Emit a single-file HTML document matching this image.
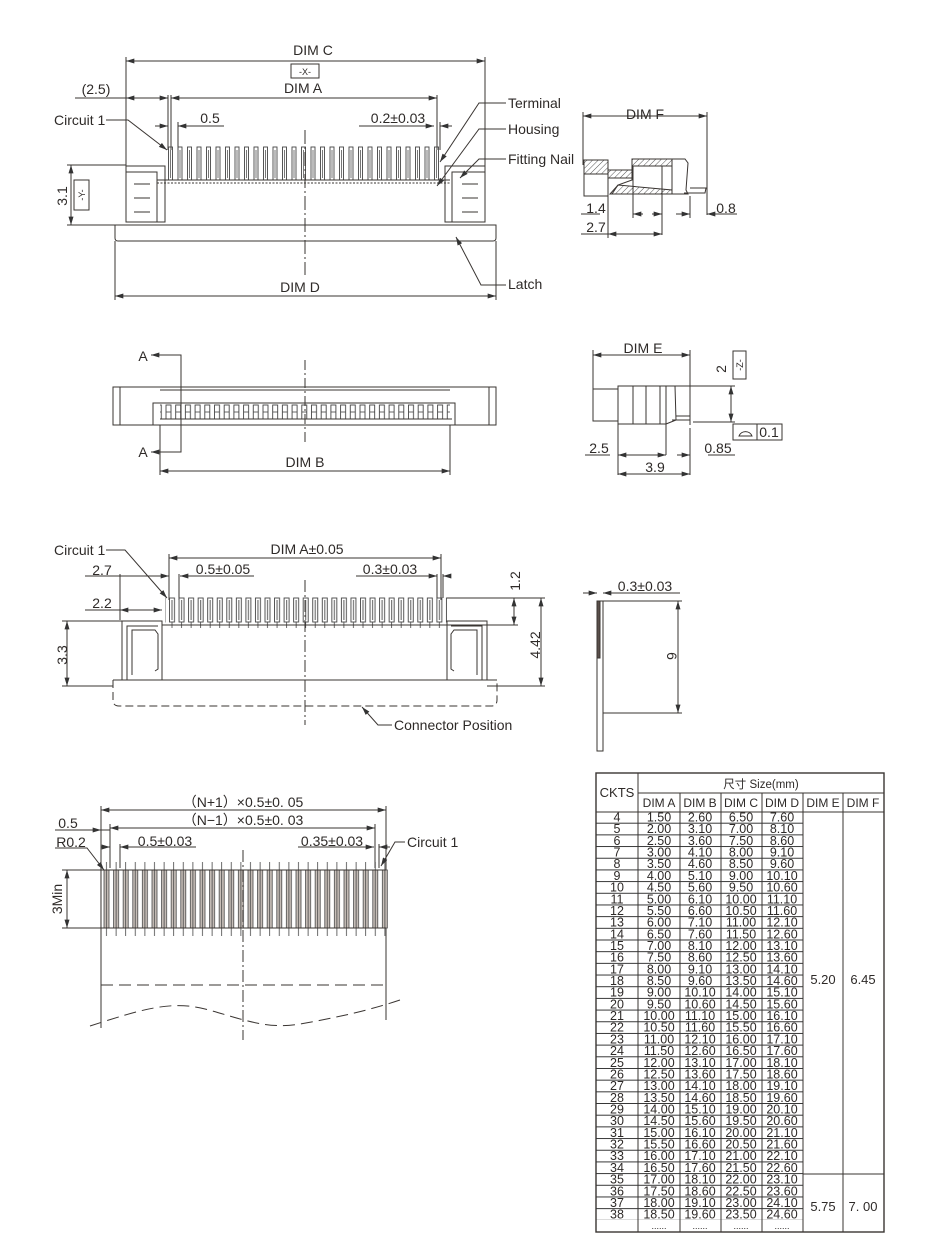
<!DOCTYPE html>
<html><head><meta charset="utf-8"><style>
html,body{margin:0;padding:0;background:#fff}
svg{display:block}
text{font-family:"Liberation Sans","Noto Sans CJK SC",sans-serif;fill:#2e2a28}
</style></head><body>
<svg width="946" height="1252" viewBox="0 0 946 1252" xmlns="http://www.w3.org/2000/svg">
<defs>
<marker id="ar" viewBox="0 0 10 6" refX="10" refY="3" markerWidth="9" markerHeight="5" orient="auto-start-reverse" markerUnits="userSpaceOnUse"><path d="M0,0L10,3L0,6z" fill="#333"/></marker>
<pattern id="pinT" x="168" y="0" width="9.5" height="300" patternUnits="userSpaceOnUse">
<rect x="0.5" y="147" width="4" height="33" fill="none" stroke="#444" stroke-width="0.9"/><line x1="2.5" y1="150" x2="2.5" y2="178" stroke="#777" stroke-width="1"/></pattern>
<pattern id="pinA" x="165" y="0" width="9.7" height="500" patternUnits="userSpaceOnUse">
<rect x="1" y="405" width="5" height="14" fill="none" stroke="#444" stroke-width="0.9"/><line x1="1" y1="412" x2="6" y2="412" stroke="#444" stroke-width="0.8"/></pattern>
<pattern id="pin3" x="169" y="0" width="9.55" height="700" patternUnits="userSpaceOnUse">
<rect x="0.5" y="598" width="5" height="24" fill="none" stroke="#444" stroke-width="0.9"/><line x1="3" y1="600" x2="3" y2="620" stroke="#777" stroke-width="1.2"/><line x1="3" y1="622" x2="3" y2="628" stroke="#444" stroke-width="0.8"/></pattern>
<pattern id="fpc" x="103" y="0" width="9.6" height="1000" patternUnits="userSpaceOnUse">
<rect x="1" y="870" width="5" height="58" fill="#c8bfb9" stroke="#444" stroke-width="0.8"/><line x1="3.5" y1="862" x2="3.5" y2="936" stroke="#444" stroke-width="0.8"/></pattern>
<pattern id="rows" x="0" y="812" width="300" height="11.68" patternUnits="userSpaceOnUse">
<line x1="0" y1="11.2" x2="300" y2="11.2" stroke="#333" stroke-width="1"/></pattern>
<pattern id="hatch" width="4" height="4" patternUnits="userSpaceOnUse" patternTransform="rotate(45)"><line x1="0" y1="0" x2="0" y2="4" stroke="#555" stroke-width="1"/></pattern>
</defs>

<g stroke="#3a3532" stroke-width="1" fill="none">
<line x1="126" y1="57" x2="126" y2="170"/><line x1="485" y1="57" x2="485" y2="170"/>
<line x1="126" y1="61" x2="485" y2="61" marker-start="url(#ar)" marker-end="url(#ar)"/>
<rect x="291" y="64" width="28" height="14"/>
<line x1="75" y1="98" x2="126" y2="98"/>
<line x1="126" y1="98" x2="168" y2="98" marker-start="url(#ar)" marker-end="url(#ar)"/>
<line x1="171" y1="98" x2="437" y2="98" marker-start="url(#ar)" marker-end="url(#ar)"/>
<line x1="168" y1="95" x2="168" y2="150"/><line x1="171" y1="95" x2="171" y2="150"/><line x1="437" y1="95" x2="437" y2="150"/>
<line x1="155" y1="126" x2="168" y2="126" marker-end="url(#ar)"/><line x1="187" y1="126" x2="224" y2="126"/><line x1="187" y1="126" x2="178" y2="126" marker-end="url(#ar)"/>
<line x1="178" y1="122" x2="178" y2="150"/>
<line x1="359" y1="126" x2="434" y2="126" marker-end="url(#ar)"/><line x1="452" y1="126" x2="440" y2="126" marker-end="url(#ar)"/><line x1="440" y1="122" x2="440" y2="150"/>
<rect x="168" y="140" width="275" height="45" fill="url(#pinT)" stroke="none"/>
<line x1="157" y1="180" x2="450" y2="180"/><line x1="157" y1="183" x2="450" y2="183" stroke-dasharray="2 1.5"/>
<path d="M126,166 L165,166 L165,222 L126,222 Z"/><path d="M445,166 L485,166 L485,222 L445,222 Z"/>
<path d="M126,172 L157,172 L157,222"/><path d="M485,172 L452,172 L452,222"/>
<line x1="134" y1="184" x2="150" y2="184"/><line x1="134" y1="198" x2="150" y2="198"/><line x1="134" y1="212" x2="150" y2="212"/>
<line x1="462" y1="184" x2="478" y2="184"/><line x1="462" y1="198" x2="478" y2="198"/><line x1="462" y1="212" x2="478" y2="212"/>
<path d="M115,225 L496,225 L496,238 Q496,241 493,241 L118,241 Q115,241 115,238 Z"/>
<line x1="115" y1="241" x2="115" y2="300"/><line x1="496" y1="241" x2="496" y2="300"/>
<line x1="115" y1="296" x2="496" y2="296" marker-start="url(#ar)" marker-end="url(#ar)"/>
<line x1="305" y1="130" x2="305" y2="275" stroke-dasharray="14 3 2 3"/>
<line x1="67" y1="165" x2="126" y2="165"/><line x1="67" y1="225" x2="115" y2="225"/>
<line x1="71" y1="165" x2="71" y2="225" marker-start="url(#ar)" marker-end="url(#ar)"/>
<rect x="74" y="180" width="15" height="30"/>
<path d="M106,120 L128,120 L167,150" marker-end="url(#ar)"/>
<path d="M506,103 L479,103 L440,162" marker-end="url(#ar)"/>
<path d="M506,129 L479,129 L437,186" marker-end="url(#ar)"/>
<path d="M506,159 L479,159 L460,178" marker-end="url(#ar)"/>
<path d="M506,285 L481,285 L456,237" marker-end="url(#ar)"/>

<line x1="583" y1="112" x2="583" y2="165"/><line x1="707" y1="112" x2="707" y2="215"/>
<line x1="583" y1="116" x2="707" y2="116" marker-start="url(#ar)" marker-end="url(#ar)"/>
<rect x="584" y="160" width="24" height="36"/><rect x="584" y="160" width="24" height="14" fill="url(#hatch)"/>
<rect x="608" y="170" width="24" height="8" fill="url(#hatch)"/>
<path d="M632,159 L672,159 L672,194 L610,194 L618,185 L632,180 Z"/>
<rect x="632" y="159" width="40" height="7" fill="url(#hatch)"/>
<path d="M612,194 L618,185 L672,190 L672,194 Z" fill="url(#hatch)"/>
<line x1="633" y1="166" x2="633" y2="218"/><line x1="662" y1="166" x2="662" y2="235"/>
<path d="M672,159 L685,159 L688,163 L686,190 L688,194 L672,194"/>
<path d="M684,193 L705,193 L706,188 L690,188"/>
<line x1="690" y1="196" x2="690" y2="218"/>
<line x1="608" y1="196" x2="608" y2="238"/>
<line x1="581" y1="214" x2="600" y2="214"/><line x1="652" y1="214" x2="662" y2="214" marker-end="url(#ar)"/><line x1="643" y1="214" x2="633" y2="214" marker-end="url(#ar)"/>
<line x1="676" y1="214" x2="690" y2="214" marker-end="url(#ar)"/><line x1="737" y1="214" x2="707" y2="214" marker-end="url(#ar)"/>
<line x1="581" y1="234" x2="608" y2="234"/><line x1="608" y1="234" x2="662" y2="234" marker-start="url(#ar)" marker-end="url(#ar)"/>

<rect x="113" y="387" width="383" height="38"/>
<line x1="120" y1="387" x2="120" y2="425"/><line x1="489" y1="387" x2="489" y2="425"/>
<line x1="160" y1="390" x2="450" y2="390"/>
<path d="M153,425 L153,403 L455,403 L455,425"/>
<rect x="160" y="400" width="290" height="25" fill="url(#pinA)" stroke="none"/>
<line x1="160" y1="419" x2="452" y2="419"/>
<line x1="160" y1="425" x2="160" y2="475"/><line x1="450" y1="425" x2="450" y2="475"/>
<line x1="160" y1="471" x2="450" y2="471" marker-start="url(#ar)" marker-end="url(#ar)"/>
<line x1="305" y1="360" x2="305" y2="445" stroke-dasharray="10 3 2 3"/>
<path d="M181,445 L181,355 L151,355" marker-end="url(#ar)"/>
<path d="M181,400 L181,452 L151,452" marker-end="url(#ar)"/>

<line x1="593" y1="350" x2="593" y2="392"/><line x1="690" y1="350" x2="690" y2="425"/>
<line x1="593" y1="355" x2="690" y2="355" marker-start="url(#ar)" marker-end="url(#ar)"/>
<rect x="593" y="389" width="25" height="32"/>
<rect x="618" y="386" width="48" height="38"/>
<line x1="633" y1="386" x2="633" y2="424"/><line x1="646" y1="386" x2="646" y2="424"/><line x1="660" y1="386" x2="660" y2="424"/>
<path d="M666,386 L675,386 L676,420 L666,424"/>
<path d="M672,420 L690,420 L690,416 L676,416"/>
<line x1="666" y1="386" x2="735" y2="386"/><line x1="693" y1="422" x2="735" y2="422"/>
<line x1="731" y1="386" x2="731" y2="422" marker-start="url(#ar)" marker-end="url(#ar)"/>
<rect x="733" y="351" width="13" height="28"/>
<rect x="733" y="424" width="24" height="16"/><rect x="757" y="424" width="25" height="16"/>
<path d="M739,436 A7,7 0 0 1 752,436 Z"/>
<line x1="618" y1="424" x2="618" y2="475"/><line x1="666" y1="424" x2="666" y2="455"/><line x1="690" y1="428" x2="690" y2="475"/>
<line x1="585" y1="455" x2="610" y2="455"/><line x1="618" y1="455" x2="666" y2="455" marker-start="url(#ar)" marker-end="url(#ar)"/>
<line x1="677" y1="455" x2="690" y2="455" marker-end="url(#ar)"/><line x1="735" y1="455" x2="708" y2="455"/>
<line x1="618" y1="474" x2="690" y2="474" marker-start="url(#ar)" marker-end="url(#ar)"/>

<line x1="169" y1="554" x2="169" y2="600"/><line x1="441" y1="554" x2="441" y2="600"/>
<line x1="169" y1="558" x2="441" y2="558" marker-start="url(#ar)" marker-end="url(#ar)"/>
<line x1="85" y1="576" x2="169" y2="576" marker-end="url(#ar)"/><line x1="120" y1="574" x2="120" y2="620"/>
<line x1="190" y1="576" x2="254" y2="576"/><line x1="190" y1="576" x2="180" y2="576" marker-end="url(#ar)"/><line x1="179" y1="574" x2="179" y2="600"/>
<line x1="356" y1="576" x2="437" y2="576" marker-end="url(#ar)"/><line x1="450" y1="576" x2="443" y2="576" marker-end="url(#ar)"/><line x1="437" y1="574" x2="437" y2="598"/><line x1="443" y1="574" x2="443" y2="598"/>
<line x1="85" y1="610" x2="120" y2="610"/><line x1="120" y1="610" x2="162" y2="610" marker-start="url(#ar)" marker-end="url(#ar)"/>
<rect x="165" y="590" width="282" height="40" fill="url(#pin3)" stroke="none"/>
<line x1="162" y1="625" x2="447" y2="625"/>
<path d="M122,680 L122,621 L162,621 L162,680"/><path d="M127,680 L127,626 L158,626"/>
<path d="M132,675 L132,630 L155,630 L158,634 L158,669 L155,671"/>
<path d="M447,680 L447,621 L487,621 L487,680"/><path d="M482,680 L482,626 L451,626"/>
<path d="M477,675 L477,630 L454,630 L451,634 L451,669 L454,671"/>
<path d="M113,680 L497,680"/>
<path d="M113,680 L113,700 Q113,706 119,706 L491,706 Q497,706 497,700 L497,680" stroke-dasharray="8 4"/>
<line x1="305" y1="580" x2="305" y2="725" stroke-dasharray="12 3 2 3"/>
<line x1="447" y1="598" x2="545" y2="598"/><line x1="447" y1="625" x2="518" y2="625"/><line x1="487" y1="686" x2="545" y2="686"/>
<line x1="514" y1="598" x2="514" y2="625" marker-start="url(#ar)" marker-end="url(#ar)"/>
<line x1="541" y1="598" x2="541" y2="686" marker-start="url(#ar)" marker-end="url(#ar)"/>
<line x1="62" y1="621" x2="122" y2="621"/><line x1="62" y1="686" x2="113" y2="686"/>
<line x1="67" y1="621" x2="67" y2="686" marker-start="url(#ar)" marker-end="url(#ar)"/>
<path d="M106,550 L125,550 L167,598" marker-end="url(#ar)"/>
<path d="M392,725 L378,725 L362,707" marker-end="url(#ar)"/>

<rect x="597" y="601" width="6" height="150"/>
<rect x="597" y="601" width="3" height="57" fill="#5a4f4a"/>
<line x1="603" y1="601" x2="682" y2="601"/><line x1="603" y1="713" x2="682" y2="713"/>
<line x1="678" y1="601" x2="678" y2="713" marker-start="url(#ar)" marker-end="url(#ar)"/>
<line x1="583" y1="593" x2="597" y2="593" marker-end="url(#ar)"/><line x1="680" y1="593" x2="603" y2="593"/><line x1="612" y1="593" x2="603" y2="593" marker-end="url(#ar)"/>

<line x1="101" y1="806" x2="101" y2="1028"/><line x1="386" y1="806" x2="386" y2="1020"/>
<line x1="101" y1="810" x2="386" y2="810" marker-start="url(#ar)" marker-end="url(#ar)"/>
<line x1="110" y1="824" x2="110" y2="868"/><line x1="375" y1="824" x2="375" y2="868"/>
<line x1="110" y1="828" x2="375" y2="828" marker-start="url(#ar)" marker-end="url(#ar)"/>
<line x1="55" y1="830" x2="101" y2="830" marker-end="url(#ar)"/><line x1="101" y1="830" x2="110" y2="830"/>
<line x1="101" y1="847" x2="110" y2="847" marker-end="url(#ar)"/><line x1="130" y1="847" x2="196" y2="847"/><line x1="130" y1="847" x2="120" y2="847" marker-end="url(#ar)"/><line x1="120" y1="844" x2="120" y2="868"/>
<line x1="298" y1="847" x2="374" y2="847" marker-end="url(#ar)"/><line x1="390" y1="847" x2="379" y2="847" marker-end="url(#ar)"/><line x1="379" y1="844" x2="379" y2="868"/>
<rect x="100" y="860" width="288" height="80" fill="url(#fpc)" stroke="none"/>
<line x1="101" y1="870" x2="386" y2="870"/><line x1="101" y1="928" x2="386" y2="928"/>
<line x1="62" y1="870" x2="101" y2="870"/><line x1="62" y1="928" x2="101" y2="928"/>
<line x1="67" y1="870" x2="67" y2="928" marker-start="url(#ar)" marker-end="url(#ar)"/>
<line x1="101" y1="985" x2="386" y2="985" stroke-dasharray="12 6"/>
<path d="M90,1026 C140,1010 170,1000 205,1009 C240,1018 265,1030 300,1024 C340,1017 370,1010 400,1000" stroke-dasharray="12 6"/>
<line x1="243" y1="850" x2="243" y2="1040" stroke-dasharray="12 3 2 3"/>
<path d="M55,848 L87,848 L104,870" marker-end="url(#ar)"/>
<path d="M405,842 L395,842 L381,866" marker-end="url(#ar)"/>

<rect x="596" y="773" width="288" height="459" stroke-width="1.4"/>
<line x1="638" y1="773" x2="638" y2="1232"/>
<line x1="638" y1="793" x2="884" y2="793"/>
<line x1="596" y1="812" x2="884" y2="812"/>
<line x1="680" y1="793" x2="680" y2="1232"/><line x1="721" y1="793" x2="721" y2="1232"/><line x1="762" y1="793" x2="762" y2="1232"/><line x1="803" y1="793" x2="803" y2="1232"/><line x1="843" y1="793" x2="843" y2="1232"/>
<line x1="803" y1="1174" x2="884" y2="1174"/>
</g>
<rect x="596" y="812" width="207" height="408" fill="url(#rows)"/>

<g font-size="14">
<text x="313" y="55" text-anchor="middle">DIM  C</text>
<text x="305" y="75" text-anchor="middle" font-size="9">-X-</text>
<text x="96" y="94" text-anchor="middle">(2.5)</text>
<text x="303" y="93" text-anchor="middle">DIM  A</text>
<text x="54" y="125">Circuit 1</text>
<text x="210" y="123" text-anchor="middle">0.5</text>
<text x="398" y="123" text-anchor="middle">0.2±0.03</text>
<text x="508" y="108">Terminal</text>
<text x="508" y="134">Housing</text>
<text x="508" y="164">Fitting Nail</text>
<text x="508" y="289">Latch</text>
<text x="300" y="292" text-anchor="middle">DIM  D</text>
<text transform="translate(67,196) rotate(-90)" text-anchor="middle">3.1</text>
<text transform="translate(85,195) rotate(-90)" text-anchor="middle" font-size="9">-Y-</text>
<text x="645" y="119" text-anchor="middle">DIM  F</text>
<text x="596" y="213" text-anchor="middle">1.4</text>
<text x="596" y="232" text-anchor="middle">2.7</text>
<text x="726" y="213" text-anchor="middle">0.8</text>
<text x="143" y="361" text-anchor="middle">A</text>
<text x="143" y="457" text-anchor="middle">A</text>
<text x="305" y="467" text-anchor="middle">DIM  B</text>
<text x="643" y="353" text-anchor="middle">DIM  E</text>
<text transform="translate(726,369) rotate(-90)" text-anchor="middle">2</text>
<text transform="translate(743,365) rotate(-90)" text-anchor="middle" font-size="9">-Z-</text>
<text x="769" y="437" text-anchor="middle">0.1</text>
<text x="599" y="453" text-anchor="middle">2.5</text>
<text x="655" y="472" text-anchor="middle">3.9</text>
<text x="718" y="453" text-anchor="middle">0.85</text>
<text x="54" y="555">Circuit 1</text>
<text x="307" y="554" text-anchor="middle">DIM  A±0.05</text>
<text x="102" y="575" text-anchor="middle">2.7</text>
<text x="102" y="608" text-anchor="middle">2.2</text>
<text x="223" y="574" text-anchor="middle">0.5±0.05</text>
<text x="390" y="574" text-anchor="middle">0.3±0.03</text>
<text transform="translate(520,581) rotate(-90)" text-anchor="middle">1.2</text>
<text transform="translate(540,645) rotate(-90)" text-anchor="middle">4.42</text>
<text transform="translate(67,655) rotate(-90)" text-anchor="middle">3.3</text>
<text x="394" y="730">Connector Position</text>
<text x="645" y="591" text-anchor="middle">0.3±0.03</text>
<text transform="translate(667,656) rotate(90)" text-anchor="middle">6</text>
<text x="243" y="807" text-anchor="middle">（N+1）×0.5±0. 05</text>
<text x="243" y="825" text-anchor="middle">（N−1）×0.5±0. 03</text>
<text x="68" y="828" text-anchor="middle">0.5</text>
<text x="71" y="847" text-anchor="middle">R0.2</text>
<text x="165" y="846" text-anchor="middle">0.5±0.03</text>
<text x="332" y="846" text-anchor="middle">0.35±0.03</text>
<text x="407" y="847">Circuit 1</text>
<text transform="translate(62,899) rotate(-90)" text-anchor="middle">3Min</text>
</g>

<g font-size="13" text-anchor="middle">
<text x="617" y="797">CKTS</text>
<text x="761" y="788" font-size="11.5">尺寸 Size(mm)</text>
<text x="659" y="807" font-size="12">DIM A</text><text x="700" y="807" font-size="12">DIM B</text><text x="741" y="807" font-size="12">DIM C</text><text x="782" y="807" font-size="12">DIM D</text><text x="823" y="807" font-size="12">DIM E</text><text x="863" y="807" font-size="12">DIM F</text>
<text x="823" y="984">5.20</text><text x="863" y="984">6.45</text>
<text x="823" y="1211">5.75</text><text x="863" y="1211">7. 00</text>
</g>
<g font-size="12.5" text-anchor="middle">
<g transform="translate(0,821.5)"><text x="617">4</text><text x="659">1.50</text><text x="700">2.60</text><text x="741">6.50</text><text x="782">7.60</text></g>
<g transform="translate(0,833.18)"><text x="617">5</text><text x="659">2.00</text><text x="700">3.10</text><text x="741">7.00</text><text x="782">8.10</text></g>
<g transform="translate(0,844.86)"><text x="617">6</text><text x="659">2.50</text><text x="700">3.60</text><text x="741">7.50</text><text x="782">8.60</text></g>
<g transform="translate(0,856.54)"><text x="617">7</text><text x="659">3.00</text><text x="700">4.10</text><text x="741">8.00</text><text x="782">9.10</text></g>
<g transform="translate(0,868.22)"><text x="617">8</text><text x="659">3.50</text><text x="700">4.60</text><text x="741">8.50</text><text x="782">9.60</text></g>
<g transform="translate(0,879.9)"><text x="617">9</text><text x="659">4.00</text><text x="700">5.10</text><text x="741">9.00</text><text x="782">10.10</text></g>
<g transform="translate(0,891.58)"><text x="617">10</text><text x="659">4.50</text><text x="700">5.60</text><text x="741">9.50</text><text x="782">10.60</text></g>
<g transform="translate(0,903.26)"><text x="617">11</text><text x="659">5.00</text><text x="700">6.10</text><text x="741">10.00</text><text x="782">11.10</text></g>
<g transform="translate(0,914.94)"><text x="617">12</text><text x="659">5.50</text><text x="700">6.60</text><text x="741">10.50</text><text x="782">11.60</text></g>
<g transform="translate(0,926.62)"><text x="617">13</text><text x="659">6.00</text><text x="700">7.10</text><text x="741">11.00</text><text x="782">12.10</text></g>
<g transform="translate(0,938.3)"><text x="617">14</text><text x="659">6.50</text><text x="700">7.60</text><text x="741">11.50</text><text x="782">12.60</text></g>
<g transform="translate(0,949.98)"><text x="617">15</text><text x="659">7.00</text><text x="700">8.10</text><text x="741">12.00</text><text x="782">13.10</text></g>
<g transform="translate(0,961.66)"><text x="617">16</text><text x="659">7.50</text><text x="700">8.60</text><text x="741">12.50</text><text x="782">13.60</text></g>
<g transform="translate(0,973.34)"><text x="617">17</text><text x="659">8.00</text><text x="700">9.10</text><text x="741">13.00</text><text x="782">14.10</text></g>
<g transform="translate(0,985.02)"><text x="617">18</text><text x="659">8.50</text><text x="700">9.60</text><text x="741">13.50</text><text x="782">14.60</text></g>
<g transform="translate(0,996.7)"><text x="617">19</text><text x="659">9.00</text><text x="700">10.10</text><text x="741">14.00</text><text x="782">15.10</text></g>
<g transform="translate(0,1008.38)"><text x="617">20</text><text x="659">9.50</text><text x="700">10.60</text><text x="741">14.50</text><text x="782">15.60</text></g>
<g transform="translate(0,1020.06)"><text x="617">21</text><text x="659">10.00</text><text x="700">11.10</text><text x="741">15.00</text><text x="782">16.10</text></g>
<g transform="translate(0,1031.74)"><text x="617">22</text><text x="659">10.50</text><text x="700">11.60</text><text x="741">15.50</text><text x="782">16.60</text></g>
<g transform="translate(0,1043.42)"><text x="617">23</text><text x="659">11.00</text><text x="700">12.10</text><text x="741">16.00</text><text x="782">17.10</text></g>
<g transform="translate(0,1055.1)"><text x="617">24</text><text x="659">11.50</text><text x="700">12.60</text><text x="741">16.50</text><text x="782">17.60</text></g>
<g transform="translate(0,1066.78)"><text x="617">25</text><text x="659">12.00</text><text x="700">13.10</text><text x="741">17.00</text><text x="782">18.10</text></g>
<g transform="translate(0,1078.46)"><text x="617">26</text><text x="659">12.50</text><text x="700">13.60</text><text x="741">17.50</text><text x="782">18.60</text></g>
<g transform="translate(0,1090.14)"><text x="617">27</text><text x="659">13.00</text><text x="700">14.10</text><text x="741">18.00</text><text x="782">19.10</text></g>
<g transform="translate(0,1101.82)"><text x="617">28</text><text x="659">13.50</text><text x="700">14.60</text><text x="741">18.50</text><text x="782">19.60</text></g>
<g transform="translate(0,1113.5)"><text x="617">29</text><text x="659">14.00</text><text x="700">15.10</text><text x="741">19.00</text><text x="782">20.10</text></g>
<g transform="translate(0,1125.18)"><text x="617">30</text><text x="659">14.50</text><text x="700">15.60</text><text x="741">19.50</text><text x="782">20.60</text></g>
<g transform="translate(0,1136.86)"><text x="617">31</text><text x="659">15.00</text><text x="700">16.10</text><text x="741">20.00</text><text x="782">21.10</text></g>
<g transform="translate(0,1148.54)"><text x="617">32</text><text x="659">15.50</text><text x="700">16.60</text><text x="741">20.50</text><text x="782">21.60</text></g>
<g transform="translate(0,1160.22)"><text x="617">33</text><text x="659">16.00</text><text x="700">17.10</text><text x="741">21.00</text><text x="782">22.10</text></g>
<g transform="translate(0,1171.9)"><text x="617">34</text><text x="659">16.50</text><text x="700">17.60</text><text x="741">21.50</text><text x="782">22.60</text></g>
<g transform="translate(0,1183.58)"><text x="617">35</text><text x="659">17.00</text><text x="700">18.10</text><text x="741">22.00</text><text x="782">23.10</text></g>
<g transform="translate(0,1195.26)"><text x="617">36</text><text x="659">17.50</text><text x="700">18.60</text><text x="741">22.50</text><text x="782">23.60</text></g>
<g transform="translate(0,1206.94)"><text x="617">37</text><text x="659">18.00</text><text x="700">19.10</text><text x="741">23.00</text><text x="782">24.10</text></g>
<g transform="translate(0,1218.62)"><text x="617">38</text><text x="659">18.50</text><text x="700">19.60</text><text x="741">23.50</text><text x="782">24.60</text></g>
<g transform="translate(0,1229)" font-size="9"><text x="659">......</text><text x="700">......</text><text x="741">......</text><text x="782">......</text></g>
</g>
</svg>
</body></html>
